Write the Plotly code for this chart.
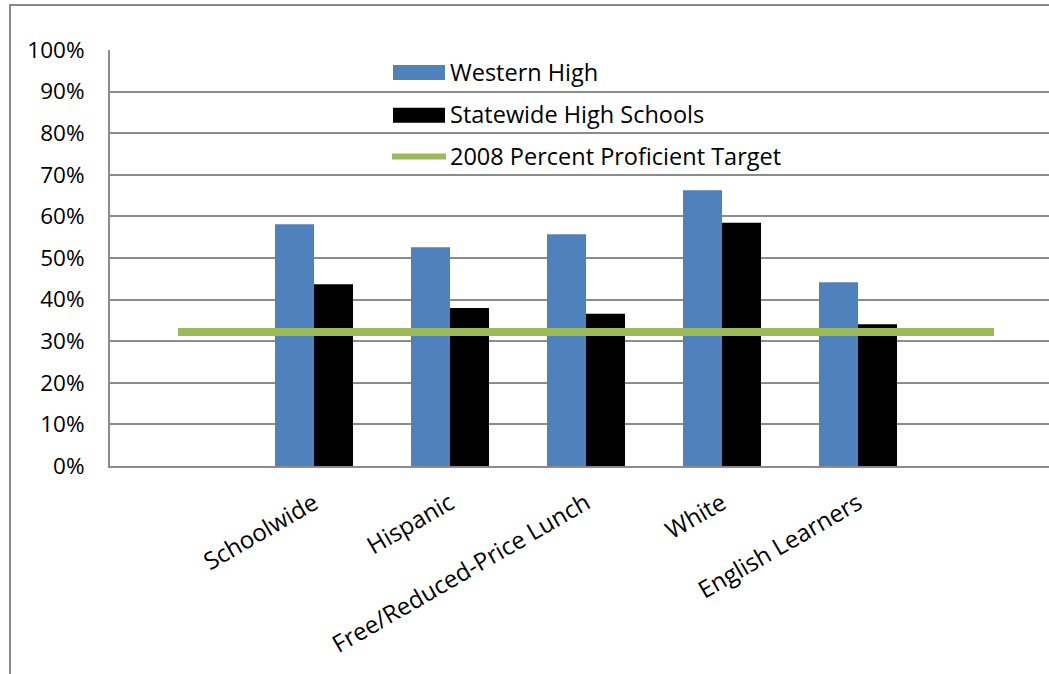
import plotly.graph_objects as go

# ---- data ----
categories = [" ", "Schoolwide", "Hispanic", "Free/Reduced-Price Lunch", "White", "English Learners", "  "]
western_high = [None, 58.1, 52.6, 55.7, 66.3, 44.2, None]
statewide = [None, 43.7, 38.0, 36.6, 58.5, 34.1, None]
target_2008 = [32.2, 32.2, 32.2, 32.2, 32.2, 32.2, 32.2]
series_names = ["Western High", "Statewide High Schools", "2008 Percent Proficient Target"]
y_ticks = [0, 10, 20, 30, 40, 50, 60, 70, 80, 90, 100]
y_tick_labels = ["0%", "10%", "20%", "30%", "40%", "50%", "60%", "70%", "80%", "90%", "100%"]

BLUE = "#4F81BD"
BLACK = "#000000"
GREEN = "#9BBB59"
GRID = "#8c8c8c"
FONT = "Open Sans"

W, H = 1049, 674
ML, MT, MB = 110, 50, 208
PW = W - ML
PH = H - MT - MB

fig = go.Figure()
fig.add_trace(go.Bar(x=categories, y=western_high, name=series_names[0],
                     marker=dict(color=BLUE, line=dict(width=0)), showlegend=False))
fig.add_trace(go.Bar(x=categories, y=statewide, name=series_names[1],
                     marker=dict(color=BLACK, line=dict(width=0)), showlegend=False))
fig.add_trace(go.Scatter(x=categories, y=target_2008, name=series_names[2], mode="lines",
                         line=dict(color=GREEN, width=8), showlegend=False))


def px_x(px):
    return (px - ML) / PW


def px_y(py):
    return (H - MB - py) / PH


shapes = [
    # outer chart border (cropped at right/bottom)
    dict(type="rect", xref="paper", yref="paper", x0=px_x(10), x1=px_x(1200),
         y0=px_y(900), y1=px_y(5), line=dict(color="#8a8a8a", width=2), layer="below"),
    # manual legend symbols
    dict(type="rect", xref="paper", yref="paper", x0=px_x(393), x1=px_x(445),
         y0=px_y(80), y1=px_y(65), fillcolor=BLUE, line=dict(width=0)),
    dict(type="rect", xref="paper", yref="paper", x0=px_x(393), x1=px_x(445),
         y0=px_y(122.7), y1=px_y(107.7), fillcolor=BLACK, line=dict(width=0)),
    dict(type="line", xref="paper", yref="paper", x0=px_x(392), x1=px_x(446),
         y0=px_y(156.5), y1=px_y(156.5), line=dict(color=GREEN, width=6)),
]

annotations = []
for name, py in zip(series_names, [72, 114, 156]):
    annotations.append(dict(text=name, xref="paper", yref="paper", x=px_x(448), y=px_y(py),
                            xanchor="left", yanchor="middle", showarrow=False,
                            font=dict(family=FONT, size=23.5, color="black")))

fig.update_layout(
    width=W, height=H,
    margin=dict(l=ML, r=0, t=MT, b=MB, pad=0),
    paper_bgcolor="white", plot_bgcolor="white",
    barmode="group", bargap=0.4265, bargroupgap=0,
    font=dict(family=FONT, size=22, color="black"),
    shapes=shapes, annotations=annotations,
    showlegend=False,
)
fig.update_xaxes(
    type="category", categoryorder="array", categoryarray=categories,
    range=[-0.5, -0.5 + PW / 136.0],
    tickangle=-30, tickfont=dict(family=FONT, size=24, color="black"),
    showgrid=False, showline=True, linecolor=GRID, linewidth=2,
    ticks="", zeroline=False, ticklabelstandoff=12,
)
fig.update_yaxes(
    range=[0, 100], tickmode="array", tickvals=y_ticks, ticktext=y_tick_labels,
    tickfont=dict(family=FONT, size=22.5, color="black"),
    showgrid=True, gridcolor=GRID, gridwidth=2,
    showline=True, linecolor=GRID, linewidth=2, mirror=False,
    ticks="", zeroline=False, ticklabelstandoff=19,
)

fig.write_html("out.html")
